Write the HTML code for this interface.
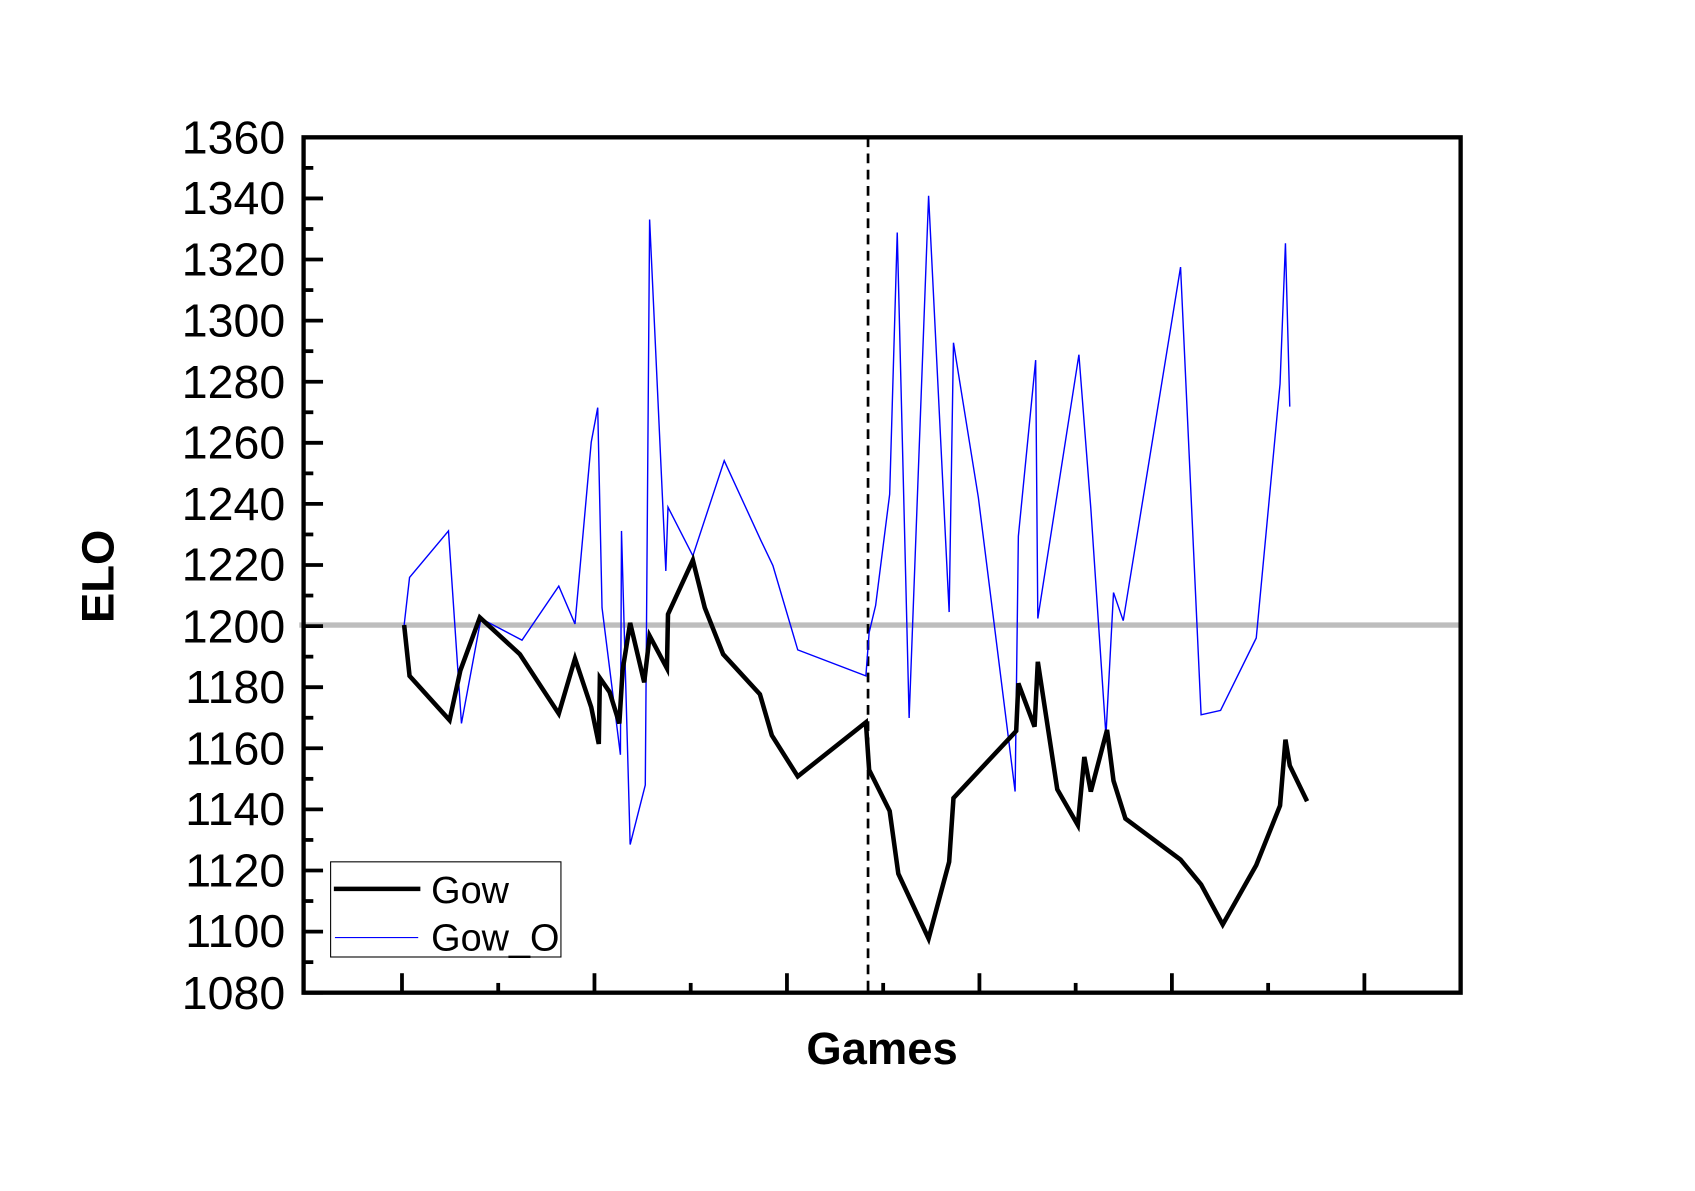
<!DOCTYPE html>
<html><head><meta charset="utf-8"><style>html,body{margin:0;padding:0;background:#fff}svg{display:block}</style></head>
<body>
<svg width="1695" height="1191" viewBox="0 0 1566 1101.4" xmlns="http://www.w3.org/2000/svg" font-family="Liberation Sans, Arial, sans-serif">
<rect x="0" y="0" width="1566" height="1102" fill="#fff"/>
<line x1="276" y1="578" x2="1350" y2="578" stroke="#bdbdbd" stroke-width="5"/>
<line x1="802" y1="127" x2="802" y2="918" stroke="#000" stroke-width="2.5" stroke-dasharray="9,6"/>
<polyline fill="none" stroke="#0000ff" stroke-width="1.3" stroke-linejoin="miter" points="373,578 378,534 414,491 426,669 444,572 482,592 516,542 531,577 546,409 552,377 556,562 573,698 574,491 582,781 596,726 600,203 615,528 617,469 640,514 669,426 703,500 714,523 737,601 800,625 803,585 809,560 822,457 829,215 840,664 858,181 877,566 881,317 904,460 938,732 941,496 957,333 959,572 997,328 1008,470 1022,680 1029,548 1038,574 1091,247 1110,661 1128,657 1161,590 1183,355 1188,225 1192,376"/>
<polyline fill="none" stroke="#000" stroke-width="4.2" stroke-linejoin="miter" points="373,578 378,625 415,666 425,620 443,571 480,605 516,660 531,609 546,654 553,688 554,627 563,640 572,669 575,620 582,576 595,631 600,588 616,618 617,568 640,518 651,562 668,605 702,642 713,680 737,718 800,668 803,712 822,750 830,808 858,868 877,797 881,738 939,676 941,632 956,672 959,612 977,730 996,763 1002,700 1008,732 1023,675 1029,722 1040,757 1091,795 1110,818 1130,855 1161,800 1183,745 1188,684 1192,708 1208,741"/>
<rect x="280" y="127" width="1070" height="791" fill="none" stroke="#000" stroke-width="4"/>
<g stroke="#000" stroke-width="3.5">
<line x1="280" y1="918" x2="298" y2="918"/><line x1="280" y1="889.75" x2="289" y2="889.75"/>
<line x1="280" y1="861.5" x2="298" y2="861.5"/><line x1="280" y1="833.25" x2="289" y2="833.25"/>
<line x1="280" y1="805" x2="298" y2="805"/><line x1="280" y1="776.75" x2="289" y2="776.75"/>
<line x1="280" y1="748.5" x2="298" y2="748.5"/><line x1="280" y1="720.25" x2="289" y2="720.25"/>
<line x1="280" y1="692" x2="298" y2="692"/><line x1="280" y1="663.75" x2="289" y2="663.75"/>
<line x1="280" y1="635.5" x2="298" y2="635.5"/><line x1="280" y1="607.25" x2="289" y2="607.25"/>
<line x1="280" y1="579" x2="298" y2="579"/><line x1="280" y1="550.75" x2="289" y2="550.75"/>
<line x1="280" y1="522.5" x2="298" y2="522.5"/><line x1="280" y1="494.25" x2="289" y2="494.25"/>
<line x1="280" y1="466" x2="298" y2="466"/><line x1="280" y1="437.75" x2="289" y2="437.75"/>
<line x1="280" y1="409.5" x2="298" y2="409.5"/><line x1="280" y1="381.25" x2="289" y2="381.25"/>
<line x1="280" y1="353" x2="298" y2="353"/><line x1="280" y1="324.75" x2="289" y2="324.75"/>
<line x1="280" y1="296.5" x2="298" y2="296.5"/><line x1="280" y1="268.25" x2="289" y2="268.25"/>
<line x1="280" y1="240" x2="298" y2="240"/><line x1="280" y1="211.75" x2="289" y2="211.75"/>
<line x1="280" y1="183.5" x2="298" y2="183.5"/><line x1="280" y1="155.25" x2="289" y2="155.25"/>
<line x1="371" y1="918" x2="371" y2="900"/><line x1="460" y1="918" x2="460" y2="909"/>
<line x1="549" y1="918" x2="549" y2="900"/><line x1="638" y1="918" x2="638" y2="909"/>
<line x1="727" y1="918" x2="727" y2="900"/><line x1="816" y1="918" x2="816" y2="909"/>
<line x1="905" y1="918" x2="905" y2="900"/><line x1="994" y1="918" x2="994" y2="909"/>
<line x1="1083" y1="918" x2="1083" y2="900"/><line x1="1172" y1="918" x2="1172" y2="909"/>
<line x1="1261" y1="918" x2="1261" y2="900"/>
</g>
<g font-size="43" text-anchor="end" fill="#000">
<text x="263" y="933">1080</text><text x="263" y="876">1100</text><text x="263" y="820">1120</text>
<text x="263" y="763">1140</text><text x="263" y="707">1160</text><text x="263" y="650">1180</text>
<text x="263" y="594">1200</text><text x="263" y="537">1220</text><text x="263" y="481">1240</text>
<text x="263" y="424">1260</text><text x="263" y="368">1280</text><text x="263" y="311">1300</text>
<text x="263" y="255">1320</text><text x="263" y="198">1340</text><text x="263" y="142">1360</text>
</g>
<text x="815" y="984" font-size="42" font-weight="bold" text-anchor="middle">Games</text>
<text transform="translate(104,533) rotate(-90)" font-size="42" font-weight="bold" text-anchor="middle">ELO</text>
<rect x="305" y="797" width="213" height="88" fill="#fff" stroke="#000" stroke-width="1"/>
<line x1="308" y1="822" x2="388" y2="822" stroke="#000" stroke-width="4.2"/>
<line x1="309" y1="867" x2="386" y2="867" stroke="#0000ff" stroke-width="1"/>
<text x="398" y="835" font-size="35">Gow</text>
<text x="398" y="879" font-size="35">Gow_O</text>
</svg>
</body></html>
